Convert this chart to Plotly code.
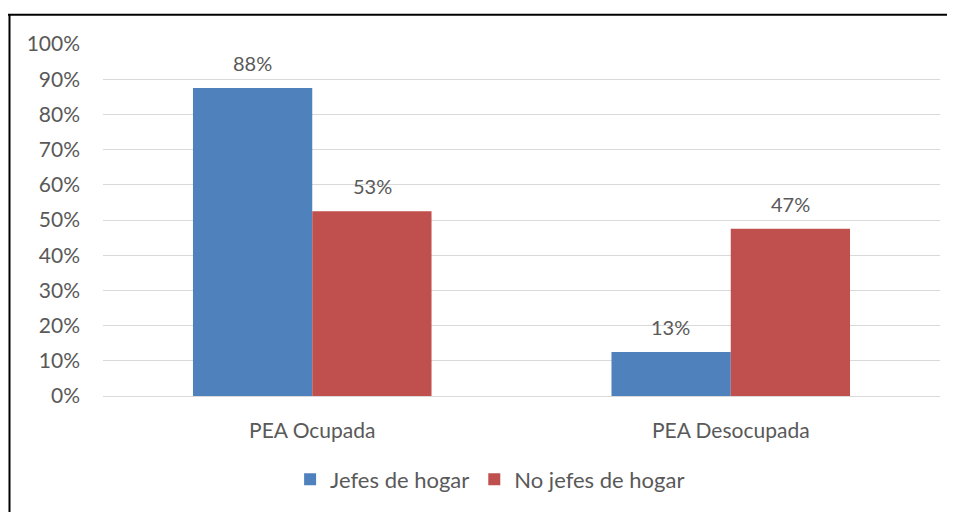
import plotly.graph_objects as go

categories = ["PEA Ocupada", "PEA Desocupada"]
jefes = [0.875, 0.125]
no_jefes = [0.525, 0.475]
jefes_labels = ["88%", "13%"]
no_jefes_labels = ["53%", "47%"]
y_ticks = [0, 0.1, 0.2, 0.3, 0.4, 0.5, 0.6, 0.7, 0.8, 0.9, 1.0]
y_tick_labels = ["0%", "10%", "20%", "30%", "40%", "50%", "60%", "70%", "80%", "90%", "100%"]

FONT = "Lato, Open Sans, sans-serif"
TXT = "#595959"
# page body has an 8px margin, so the figure is offset by 8px
W, H = 947, 504
L, R, T, B = 95, 15, 36, 114
pw = W - L - R
ph = H - T - B
BARW = 60  # half of a bar's pixel width, for label offsets

fig = go.Figure()
fig.add_trace(go.Bar(x=categories, y=jefes, name="Jefes de hogar",
                     marker=dict(color="#4F81BD", line=dict(width=0))))
fig.add_trace(go.Bar(x=categories, y=no_jefes, name="No jefes de hogar",
                     marker=dict(color="#C0504D", line=dict(width=0))))

for cat, v, lab in zip(categories, jefes, jefes_labels):
    fig.add_annotation(x=cat, y=v, text=lab, showarrow=False, xshift=-BARW,
                       yanchor="bottom", yshift=11,
                       font=dict(size=20, color=TXT, family=FONT))
for cat, v, lab in zip(categories, no_jefes, no_jefes_labels):
    fig.add_annotation(x=cat, y=v, text=lab, showarrow=False, xshift=BARW,
                       yanchor="bottom", yshift=11,
                       font=dict(size=20, color=TXT, family=FONT))

fig.add_shape(type="line", xref="paper", yref="paper",
              x0=(0 - L) / pw, x1=(W + 5 - L) / pw,
              y0=1 + (T - 6.5) / ph, y1=1 + (T - 6.5) / ph,
              line=dict(color="black", width=2))
fig.add_shape(type="line", xref="paper", yref="paper",
              x0=(1.5 - L) / pw, x1=(1.5 - L) / pw,
              y0=1 + (T - 6) / ph, y1=-(B + 5) / ph,
              line=dict(color="black", width=2))

fig.update_layout(
    width=W, height=H,
    margin=dict(l=L, r=R, t=T, b=B, pad=0),
    barmode="group", bargap=0.43, bargroupgap=0,
    plot_bgcolor="white", paper_bgcolor="white",
    font=dict(family=FONT, size=20, color=TXT),
    xaxis=dict(showline=False, showgrid=False, ticks="", tickfont=dict(size=21, color=TXT),
               ticklabelstandoff=20),
    yaxis=dict(range=[0, 1.0], tickvals=y_ticks, ticktext=y_tick_labels,
               showgrid=True, gridcolor="#D9D9D9", gridwidth=1.3,
               zeroline=True, zerolinecolor="#D9D9D9", zerolinewidth=1.3,
               showline=False, ticks="", tickfont=dict(size=21, color=TXT),
               ticklabelstandoff=22),
    legend=dict(orientation="h", x=0.4625, xanchor="center", y=-(474 - T - ph) / ph, yanchor="middle",
                font=dict(size=22, color=TXT), itemwidth=30, traceorder="normal"),
    showlegend=True,
)

fig.write_html("out.html")
